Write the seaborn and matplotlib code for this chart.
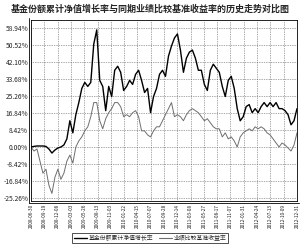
import numpy as np
import pandas as pd
import matplotlib
matplotlib.use("Agg")
import matplotlib.pyplot as plt
import seaborn as sns
from matplotlib.lines import Line2D

title = "基金份额累计净值增长率与同期业绩比较基准收益率的历史走势对比图"
fund_label = "基金份额累计净值增长率"
bench_label = "业绩比较基准收益率"

date_labels = ['2008-06-30', '2008-09-19', '2008-12-08', '2009-03-03', '2009-05-26',
               '2009-08-13', '2009-11-03', '2010-01-22', '2010-04-15', '2010-07-07',
               '2010-09-28', '2010-12-14', '2011-03-08', '2011-05-27', '2011-08-17',
               '2011-11-07', '2012-01-31', '2012-04-24', '2012-07-13', '2012-10-09',
               '2012-12-31']

fund = [0, 0.3, 0.5, 0.5, 0.5, 0.3, -1, -3, -1.5, -0.5,
        0, 1, 4, 13, 7, 16, 22, 29, 32, 30,
        32, 51, 58, 33, 30, 18, 30, 25, 38, 40,
        37, 28, 30, 33, 31, 36, 38, 33, 27, 29,
        17, 25, 29, 36, 38, 35, 45, 50, 54, 56,
        48, 37, 44, 47, 48, 44, 38, 38, 31, 28,
        38, 41, 39, 37, 30, 25, 33, 35, 29, 19,
        13, 15, 20, 21, 17, 19, 17, 20, 22, 20,
        22, 20, 22, 19, 19, 18, 16, 11, 13, 19]

bench = [0, -2, -1, -7, -13, -11, -19, -23, -15, -11,
         -16, -13, -7, -4, -8, 0, 3, 5, 8, 10,
         15, 22, 22, 13, 9, 14, 17, 19, 22, 22,
         20, 15, 16, 15, 17, 18, 15, 8, 8, 6,
         5, 8, 10, 10, 13, 16, 19, 22, 15, 16,
         15, 13, 16, 18, 19, 18, 17, 15, 13, 14,
         12, 10, 9, 9, 5, 7, 4, 5, 3, 0,
         5, 7, 8, 9, 8, 10, 9, 10, 9, 7,
         6, 4, 2, 0, 2, 1, -0.5, -2, 1, 7]

yticks = [-25.26, -16.84, -8.42, 0.00, 8.42, 16.84, 25.26, 33.68, 42.10, 50.52, 58.94]

sns.set_style("white")
plt.rcParams['font.family'] = ['Noto Sans CJK SC', 'DejaVu Sans']
plt.rcParams['axes.unicode_minus'] = False

n = len(fund)
df = pd.DataFrame({
    'idx': np.concatenate([np.arange(n), np.arange(n)]),
    'value': fund + bench,
    'series': [fund_label] * n + [bench_label] * n,
})

W, H = 300, 247
fig = plt.figure(figsize=(W / 100, H / 100), dpi=100)
L, R, T, B = 31, 297, 20, 201
ax = fig.add_axes([L / W, 1 - B / H, (R - L) / W, (B - T) / H])

sns.lineplot(data=df[df.series == bench_label], x='idx', y='value', color='#6e6e6e',
             linewidth=0.7, ax=ax, legend=False)
sns.lineplot(data=df[df.series == fund_label], x='idx', y='value', color='black',
             linewidth=1.0, ax=ax, legend=False)

ax.set_xlim(0, n - 1)
ax.set_ylim(-26.75, 62.9)
ax.set_yticks(yticks)
ax.set_yticklabels([f"{v:.2f}%" for v in yticks], fontsize=4.8, color='#222')
ax.set_xticks(np.linspace(0, n - 1, len(date_labels)))
ax.set_xticklabels(date_labels, rotation=90, fontsize=3.4, color='#222')
ax.tick_params(length=0, pad=2)
ax.set_xlabel('')
ax.set_ylabel('')
ax.grid(True, linestyle=(0, (1, 1.5)), color='#555555', linewidth=0.5)
for s in ax.spines.values():
    s.set_color('black')
    s.set_linewidth(0.6)

# outer double frame lines
fig.add_artist(Line2D([(L - 2) / W, (L - 2) / W], [1 - (B + 2) / H, 1 - (T - 2) / H],
                      color='black', linewidth=0.6))
fig.add_artist(Line2D([(L - 2) / W, (R + 1.5) / W], [1 - (B + 2) / H, 1 - (B + 2) / H],
                      color='black', linewidth=0.6))

fig.text(0.5, 1 - 9 / H, title, ha='center', va='center', fontsize=6.5, fontweight='bold')

handles = [Line2D([], [], color='black', linewidth=1.0),
           Line2D([], [], color='#6e6e6e', linewidth=0.8)]
leg = fig.legend(handles, [fund_label, bench_label], loc='center',
                 bbox_to_anchor=(150 / W, 1 - 238 / H), ncol=2, fontsize=4.2,
                 frameon=True, fancybox=False, edgecolor='black', handlelength=2.2,
                 handletextpad=0.3, columnspacing=1.0, borderpad=0.35)
leg.get_frame().set_linewidth(0.6)

fig.savefig('out.png', dpi=100)
